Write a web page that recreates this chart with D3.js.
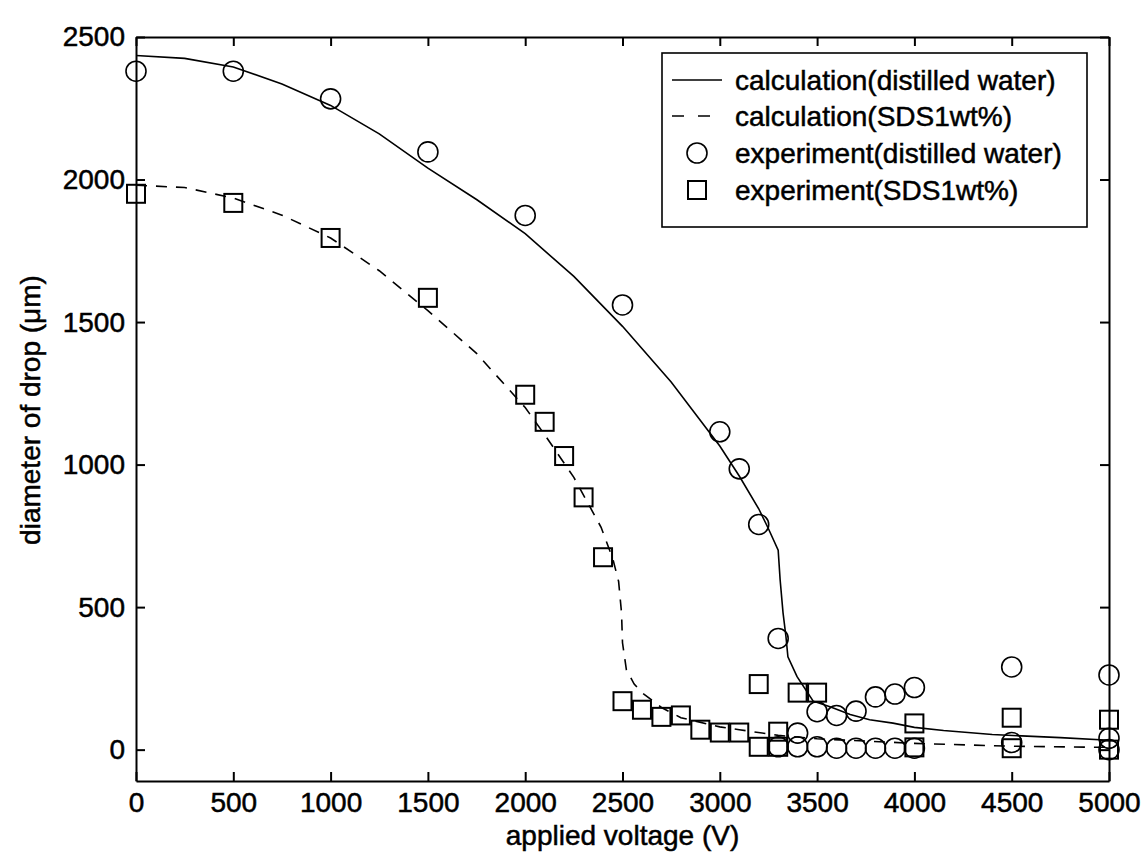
<!doctype html>
<html lang='en'>

<head>
    <meta charset='UTF-8'>
    <title>Drop diameter vs applied voltage</title>
    <style>
        html,
        body {
            margin: 0;
            background: #fff;
        }

        svg text {
            font-family: "Liberation Sans", Arial, sans-serif;
            fill: #000;
            stroke: #000;
            stroke-width: 0.5px;
        }
    </style>
</head>

<body>
    <script src='https://d3js.org/d3.v7.min.js'></script>
    <div class='chart'></div>
    <script>
        /* calculation curves */
        const calcWaterV = [0, 250, 500, 750, 1000, 1250, 1500, 1750, 2000, 2250, 2500, 2750, 3000, 3100, 3200, 3250, 3300, 3310, 3325, 3340, 3350, 3397, 3480, 3570, 3670, 3770, 3890, 4000, 4150, 4400, 4750, 5000];
        const calcWaterD = [2435, 2425, 2395, 2335, 2260, 2160, 2040, 1930, 1810, 1660, 1485, 1290, 1065, 960, 845, 775, 700, 596, 480, 396, 326, 256, 170, 150, 123, 105, 93, 78, 67, 53, 42, 33];

        const calcSdsV = [0, 250, 500, 750, 1000, 1250, 1500, 1750, 2000, 2100, 2250, 2390, 2450, 2480, 2495, 2500, 2520, 2560, 2600, 2700, 2800, 3000, 3100, 3300, 3500, 4000, 4500, 5000];
        const calcSdsD = [1980, 1972, 1935, 1875, 1795, 1680, 1540, 1390, 1200, 1105, 955, 780, 670, 590, 480, 375, 280, 230, 200, 148, 112, 80, 70, 50, 38, 22, 12, 8];

        /* experiment points */
        const expWaterV = [0, 500, 1000, 1500, 2000, 2500, 3000, 3100, 3200, 3300, 3300, 3400, 3400, 3500, 3500, 3600, 3600, 3700, 3700, 3800, 3800, 3900, 3900, 4000, 4000, 4500, 4500, 5000, 5000, 5000];
        const expWaterD = [2380, 2380, 2283, 2097, 1874, 1560, 1115, 985, 790, 390, 10, 58, 10, 133, 10, 120, 5, 135, 5, 185, 5, 195, 5, 218, 5, 290, 25, 262, 40, 0];

        const expSdsV = [0, 500, 1000, 1500, 2000, 2100, 2200, 2300, 2400, 2500, 2600, 2700, 2800, 2900, 3000, 3100, 3200, 3200, 3300, 3300, 3400, 3500, 4000, 4000, 4500, 4500, 5000, 5000];
        const expSdsD = [1950, 1918, 1795, 1585, 1245, 1150, 1030, 885, 675, 170, 140, 115, 120, 70, 60, 60, 230, 10, 63, 10, 200, 200, 92, 8, 112, 5, 105, 0];

        const xTicks = [0, 500, 1000, 1500, 2000, 2500, 3000, 3500, 4000, 4500, 5000];
        const yTicks = [0, 500, 1000, 1500, 2000, 2500];

        const legendLabels = ['calculation(distilled water)', 'calculation(SDS1wt%)',
            'experiment(distilled water)', 'experiment(SDS1wt%)'];

        const width = 1147;
        const height = 857;
        const plot = {left: 136, right: 1109, top: 37, bottom: 781};
        const fontSize = 28;

        const svg = d3.select('.chart')
            .append('svg')
            .attr('width', width)
            .attr('height', height);

        const x = d3.scaleLinear().domain([0, 5000]).range([plot.left, plot.right]);
        const y = d3.scaleLinear().domain([-110, 2500]).range([plot.bottom, plot.top]);

        // axes box with inward ticks on all four sides
        const axes = [
            {axis: d3.axisBottom(x).tickValues(xTicks), t: `translate(0,${plot.bottom})`, labels: true},
            {axis: d3.axisTop(x).tickValues(xTicks), t: `translate(0,${plot.top})`, labels: false},
            {axis: d3.axisLeft(y).tickValues(yTicks), t: `translate(${plot.left},0)`, labels: true},
            {axis: d3.axisRight(y).tickValues(yTicks), t: `translate(${plot.right},0)`, labels: false}
        ];

        axes.forEach((a) => {
            a.axis.tickSizeInner(-9).tickSizeOuter(0)
                .tickPadding(a.labels ? 11 : 0)
                .tickFormat(a.labels ? d3.format('d') : '');
            const g = svg.append('g').attr('transform', a.t).call(a.axis);
            g.select('.domain').attr('stroke', '#000').attr('stroke-width', 2);
            g.selectAll('.tick line').attr('stroke', '#000').attr('stroke-width', 2);
            g.selectAll('.tick text')
                .attr('font-size', fontSize)
                .attr('font-family', '"Liberation Sans", Arial, sans-serif')
                .attr('fill', '#000');
        });

        // curves
        const line = d3.line()
            .x((d) => x(d[0]))
            .y((d) => y(d[1]));

        svg.append('path')
            .datum(d3.zip(calcWaterV, calcWaterD))
            .attr('d', line)
            .attr('fill', 'none')
            .attr('stroke', '#000')
            .attr('stroke-width', 1.6);

        svg.append('path')
            .datum(d3.zip(calcSdsV, calcSdsD))
            .attr('d', line)
            .attr('fill', 'none')
            .attr('stroke', '#000')
            .attr('stroke-width', 1.6)
            .attr('stroke-dasharray', '11,9');

        // experiment markers
        svg.append('g')
            .selectAll('circle')
            .data(d3.zip(expWaterV, expWaterD))
            .join('circle')
            .attr('cx', (d) => x(d[0]))
            .attr('cy', (d) => y(d[1]))
            .attr('r', 10)
            .attr('fill', 'none')
            .attr('stroke', '#000')
            .attr('stroke-width', 1.6);

        const sq = 18;
        svg.append('g')
            .selectAll('rect')
            .data(d3.zip(expSdsV, expSdsD))
            .join('rect')
            .attr('x', (d) => x(d[0]) - sq / 2)
            .attr('y', (d) => y(d[1]) - sq / 2)
            .attr('width', sq)
            .attr('height', sq)
            .attr('fill', 'none')
            .attr('stroke', '#000')
            .attr('stroke-width', 2);

        // legend
        const legend = svg.append('g').attr('transform', 'translate(662,53)');
        legend.append('rect')
            .attr('width', 425)
            .attr('height', 174)
            .attr('fill', '#fff')
            .attr('stroke', '#000')
            .attr('stroke-width', 1.6);

        const rowY = [27, 63, 100, 137];
        legendLabels.forEach((label, i) => {
            const row = legend.append('g').attr('transform', `translate(0,${rowY[i]})`);
            if (i === 0) {
                row.append('line').attr('x1', 10).attr('x2', 60)
                    .attr('stroke', '#000').attr('stroke-width', 1.6);
            } else if (i === 1) {
                row.append('line').attr('x1', 10).attr('x2', 60)
                    .attr('stroke', '#000').attr('stroke-width', 1.6)
                    .attr('stroke-dasharray', '12,14');
            } else if (i === 2) {
                row.append('circle').attr('cx', 35).attr('r', 10)
                    .attr('fill', 'none').attr('stroke', '#000').attr('stroke-width', 1.6);
            } else {
                row.append('rect').attr('x', 35 - sq / 2).attr('y', -sq / 2)
                    .attr('width', sq).attr('height', sq)
                    .attr('fill', 'none').attr('stroke', '#000').attr('stroke-width', 2);
            }
            row.append('text')
                .attr('x', 73)
                .attr('dy', '0.35em')
                .attr('font-size', fontSize)
                .text(label);
        });

        // axis titles
        svg.append('text')
            .attr('x', (plot.left + plot.right) / 2)
            .attr('y', 845)
            .attr('text-anchor', 'middle')
            .attr('font-size', fontSize)
            .text('applied voltage (V)');

        svg.append('text')
            .attr('transform', 'translate(40,410) rotate(-90)')
            .attr('text-anchor', 'middle')
            .attr('font-size', fontSize)
            .text('diameter of drop (μm)');
    </script>
</body>
</html>
